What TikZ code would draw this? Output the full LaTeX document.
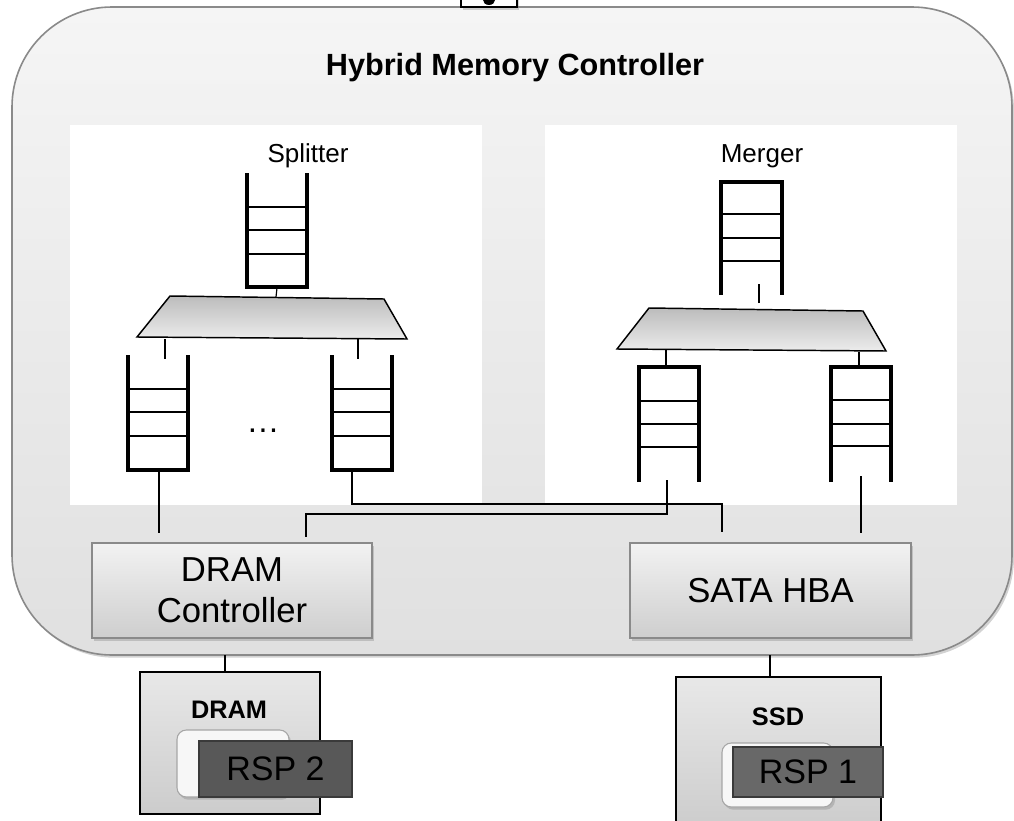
\documentclass[tikz,border=0pt]{standalone}
\usepackage{fontspec}
\setmainfont{Liberation Sans}
\usetikzlibrary{shadows}
\definecolor{rimgray}{RGB}{138,138,138}
\definecolor{shelltop}{RGB}{245,245,245}
\definecolor{shellbot}{RGB}{224,224,224}
\definecolor{boxtop}{RGB}{242,242,242}
\definecolor{boxbot}{RGB}{206,206,206}
\definecolor{devtop}{RGB}{232,232,232}
\definecolor{devbot}{RGB}{204,204,204}
\definecolor{muxtop}{RGB}{188,188,188}
\definecolor{muxbot}{RGB}{236,236,236}
\definecolor{rspdark}{RGB}{88,88,88}
\definecolor{rspmid}{RGB}{104,104,104}
\definecolor{rspedge}{RGB}{58,58,58}
\begin{document}
\begin{tikzpicture}[x=0.75pt,y=-0.75pt,
  wall/.style={line width=3pt, line join=miter},
  rung/.style={line width=2.2pt},
  thinrung/.style={line width=1.1pt},
  midrung/.style={line width=1.6pt},
  wire/.style={line width=0.9pt},
  tie/.style={line width=1.7pt},
  mux/.style={draw=black, line width=1.1pt, top color=muxtop, bottom color=muxbot},
  softshadow/.style={drop shadow={shadow xshift=1.5pt, shadow yshift=-2pt, opacity=0.35}},
  ctrlbox/.style={draw=rimgray, line width=1.2pt, top color=boxtop, bottom color=boxbot,
    softshadow, align=center, inner sep=0pt, minimum height=71.25pt,
    font=\fontsize{26}{31}\selectfont},
  devbox/.style={draw=black, line width=0.9pt, top color=devtop, bottom color=devbot, inner sep=0pt},
  slot/.style={draw=black!35, line width=0.8pt, fill=black!3, rounded corners=7pt,
    softshadow, inner sep=0pt},
  rspbox/.style={draw=rspedge, line width=1.6pt, inner sep=0pt,
    font=\fontsize{25.5}{30}\selectfont},
  devlabel/.style={font=\bfseries\fontsize{19}{22}\selectfont},
  panellabel/.style={font=\fontsize{19.5}{23}\selectfont}
]
\useasboundingbox (0,0) rectangle (1014,821);

% outer controller shell
\draw[draw=rimgray, line width=1.2pt, top color=shelltop, bottom color=shellbot,
  rounded corners=75pt, softshadow] (12,7) rectangle (1012,655);

% small port box at the top edge
\draw[draw=black, line width=0.9pt, fill=white, softshadow] (461,-6) rectangle (517,7);
\fill[black] (489,0) ellipse [x radius=6, y radius=5];

\node[font=\bfseries\fontsize{23}{27}\selectfont] (title) at (515,68) {Hybrid Memory Controller};

% white work panels
\fill[white] (70,125) rectangle (482,505);
\fill[white] (545,125) rectangle (957,505);

\node[panellabel] (split) at (308,156) {Splitter};
\node[panellabel] (merge) at (762,156) {Merger};

% ---------- splitter ----------
% input queue (open at the top)
\draw[wall] (247,173) -- (247,287) -- (307,287) -- (307,173);
\draw[rung] (247,207) -- (307,207);
\draw[rung] (247,230) -- (307,230);
\draw[thinrung] (247,254) -- (307,254);
\coordinate (sqinb) at (277,288);
% demultiplexer
\draw[mux] (170,296) -- (384,299) -- (407,339) -- (137,337) -- cycle;
\coordinate (demuxt) at (276,297);
\draw[wire] (sqinb) -- (demuxt);
\coordinate (demuxl) at (165,339);
\coordinate (demuxr) at (358,339);
\coordinate (sqat) at (165,359);
\coordinate (sqbt) at (358,359);
\draw[wire] (demuxl) -- (sqat);
\draw[wire] (demuxr) -- (sqbt);
% output queues
\draw[wall] (128,355) -- (128,470) -- (188,470) -- (188,355);
\draw[rung] (128,389) -- (188,389);
\draw[rung] (128,412) -- (188,412);
\draw[thinrung] (128,436) -- (188,436);
\draw[wall] (332,355) -- (332,470) -- (392,470) -- (392,355);
\draw[rung] (332,389) -- (392,389);
\draw[rung] (332,412) -- (392,412);
\draw[thinrung] (332,436) -- (392,436);
\node[font=\fontsize{25}{28}\selectfont] (dots) at (263,431) {…};
\coordinate (sqab) at (159,472);
\coordinate (sqbb) at (352,472);

% ---------- merger ----------
% output queue (open at the bottom)
\draw[wall] (721,295) -- (721,182) -- (782,182) -- (782,295);
\draw[thinrung] (721,214) -- (782,214);
\draw[rung] (721,238) -- (782,238);
\draw[rung] (721,261) -- (782,261);
\coordinate (mqout) at (759,284);
% multiplexer
\draw[mux] (649,308) -- (863,311) -- (886,351) -- (617,349) -- cycle;
\coordinate (muxt) at (759,303);
\draw[tie] (muxt) -- (mqout);
\coordinate (muxl) at (666,350);
\coordinate (muxr) at (859,352);
\coordinate (mqat) at (666,367);
\coordinate (mqbt) at (859,367);
\draw[wire] (muxl) -- (mqat);
\draw[wire] (muxr) -- (mqbt);
% input queues
\draw[wall] (639,482) -- (639,367) -- (699,367) -- (699,482);
\draw[thinrung] (639,401) -- (699,401);
\draw[rung] (639,424) -- (699,424);
\draw[midrung] (639,447) -- (699,447);
\draw[wall] (831,482) -- (831,367) -- (891,367) -- (891,482);
\draw[thinrung] (831,400) -- (891,400);
\draw[thinrung] (831,424) -- (891,424);
\draw[rung] (831,446) -- (891,446);
\coordinate (mqab) at (667,480);
\coordinate (mqbb) at (861,476);

% ---------- back-end controllers ----------
\node[ctrlbox, minimum width=210pt] (dctl) at (232,590.5) {DRAM\\Controller};
\node[ctrlbox, minimum width=210.75pt] (sata) at (770.5,590.5) {SATA HBA};

\coordinate (dctlin1) at (159,533);
\coordinate (dctlin2) at (306,537);
\coordinate (satain1) at (722,532);
\coordinate (satain2) at (861,533);

\draw[wire] (sqab) -- (dctlin1);
\draw[wire] (sqbb) |- (537,504) -| (satain1);
\draw[wire] (mqab) |- (486,514) -| (dctlin2);
\draw[wire] (mqbb) -- (satain2);

% ---------- devices ----------
\coordinate (dport) at (225,655);
\coordinate (sport) at (770,655);

\node[devbox, minimum width=135pt, minimum height=106.5pt] (dram) at (230,743) {};
\node[devlabel] (dramlbl) at (229,710) {DRAM};
\node[slot, minimum width=84pt, minimum height=50.25pt] (dslot) at (233,763.5) {};
\node[rspbox, fill=rspdark, minimum width=114.75pt, minimum height=42pt] (rsp2) at (275.5,769) {RSP 2};

\node[devbox, minimum width=153.75pt, minimum height=114.75pt] (ssd) at (778.5,753.5) {};
\node[devlabel] (ssdlbl) at (778,717) {SSD};
\node[slot, minimum width=83.25pt, minimum height=48pt] (sslot) at (777.5,775) {};
\node[rspbox, fill=rspmid, minimum width=112.5pt, minimum height=37.5pt] (rsp1) at (808,772) {RSP 1};

\draw[tie] (dport) -- (dram.north -| dport);
\draw[tie] (sport) -- (ssd.north -| sport);
\end{tikzpicture}
\end{document}
